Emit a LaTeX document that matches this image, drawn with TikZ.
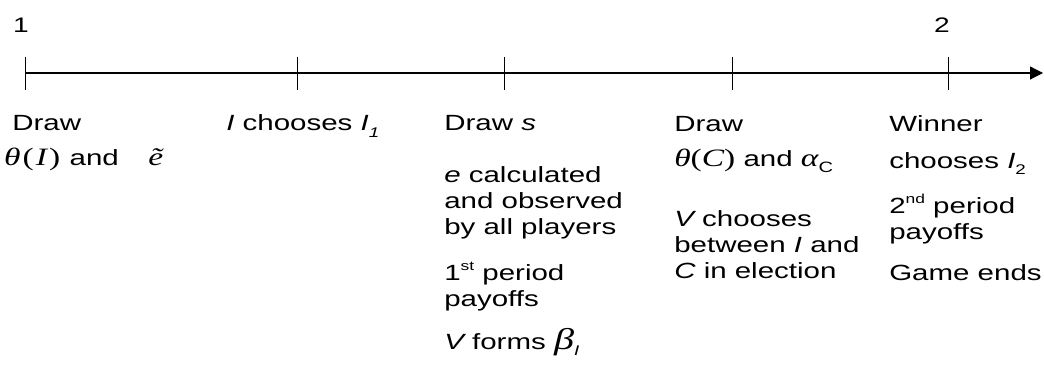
\documentclass[tikz,border=0pt]{standalone}
\usepackage{fontspec}
\setmainfont{Liberation Sans}
\newfontfamily\tms{Liberation Serif}
\usetikzlibrary{arrows.meta}
% small lowered / raised text for indices and ordinals
\newcommand\lowtext[1]{\raisebox{-0.28em}{\fontsize{14}{14}\selectfont #1}}
\newcommand\hightext[1]{\raisebox{0.42em}{\fontsize{13}{13}\selectfont #1}}
% serif italic symbols and upright serif brackets, a little larger than the text
\newcommand\gk[1]{{\tms\fontsize{25}{25}\selectfont\itshape #1}}
\newcommand\serifup[1]{{\tms\fontsize{25}{25}\selectfont #1}}

\begin{document}
\begin{tikzpicture}[x=1pt,y=-1pt,
  axisline/.style={line width=1.2pt,-{Triangle[length=13pt,width=13pt]}},
  tickmark/.style={line width=1pt},
  % multi-line labels are placed by the baseline of their last line
  lbl/.style={anchor=base west,inner sep=0pt,align=left,xscale=1.34,
    font=\fontsize{22}{26}\selectfont},
  num/.style={anchor=base,inner sep=0pt,xscale=1.34,
    font=\fontsize{21}{21}\selectfont}]
\useasboundingbox (0,0) rectangle (1044,366);

% time axis
\coordinate (t1) at (25,73);
\coordinate (t2) at (297,73);
\coordinate (t3) at (504,73);
\coordinate (t4) at (732,73);
\coordinate (t5) at (948,73);
\coordinate (tend) at (1043,73);
\draw[axisline] (t1) -- (tend);
\foreach \t in {t1,t2,t3,t4,t5}
  \draw[tickmark] ([yshift=16pt]\t) -- ([yshift=-17pt]\t);

% period numbers
\node[num] (p1) at (21,33) {1};
\node[num] (p2) at (942,33) {2};

% events
\node[lbl] (e1) at (12,166) {Draw\\[9pt]
  \hspace*{-6pt}\gk{θ}\kern1.5pt\serifup{(}\kern1.5pt\gk{I}\kern1.5pt\serifup{)}\kern1pt{} and\hspace{22pt}\gk{\~{e}}};

\node[lbl] (e2) at (226,131) {{\itshape I} chooses {\itshape I}\lowtext{\itshape 1}};

\node[lbl] (e3) at (444,349) {Draw {\itshape s}\\[26pt]
  {\itshape e} calculated\\
  and observed\\
  by all players\\[20pt]
  1\hightext{st} period\\
  payoffs\\[17pt]
  {\itshape V} forms \gk{\fontsize{30}{30}\selectfont β}\lowtext{\itshape I}};

\node[lbl] (e4) at (674,278) {Draw\\[9pt]
  \gk{θ}\serifup{(}\gk{C}\serifup{)} and \gk{α}\lowtext{\fontsize{15}{15}\selectfont C}\\[34pt]
  {\itshape V} chooses\\
  between {\itshape I} and\\
  {\itshape C} in election};

\node[lbl] (e5) at (889,280) {Winner\\[11pt]
  chooses {\itshape I}\lowtext{2}\\[19pt]
  2\hightext{nd} period\\
  payoffs\\[15pt]
  Game ends};
\end{tikzpicture}
\end{document}
